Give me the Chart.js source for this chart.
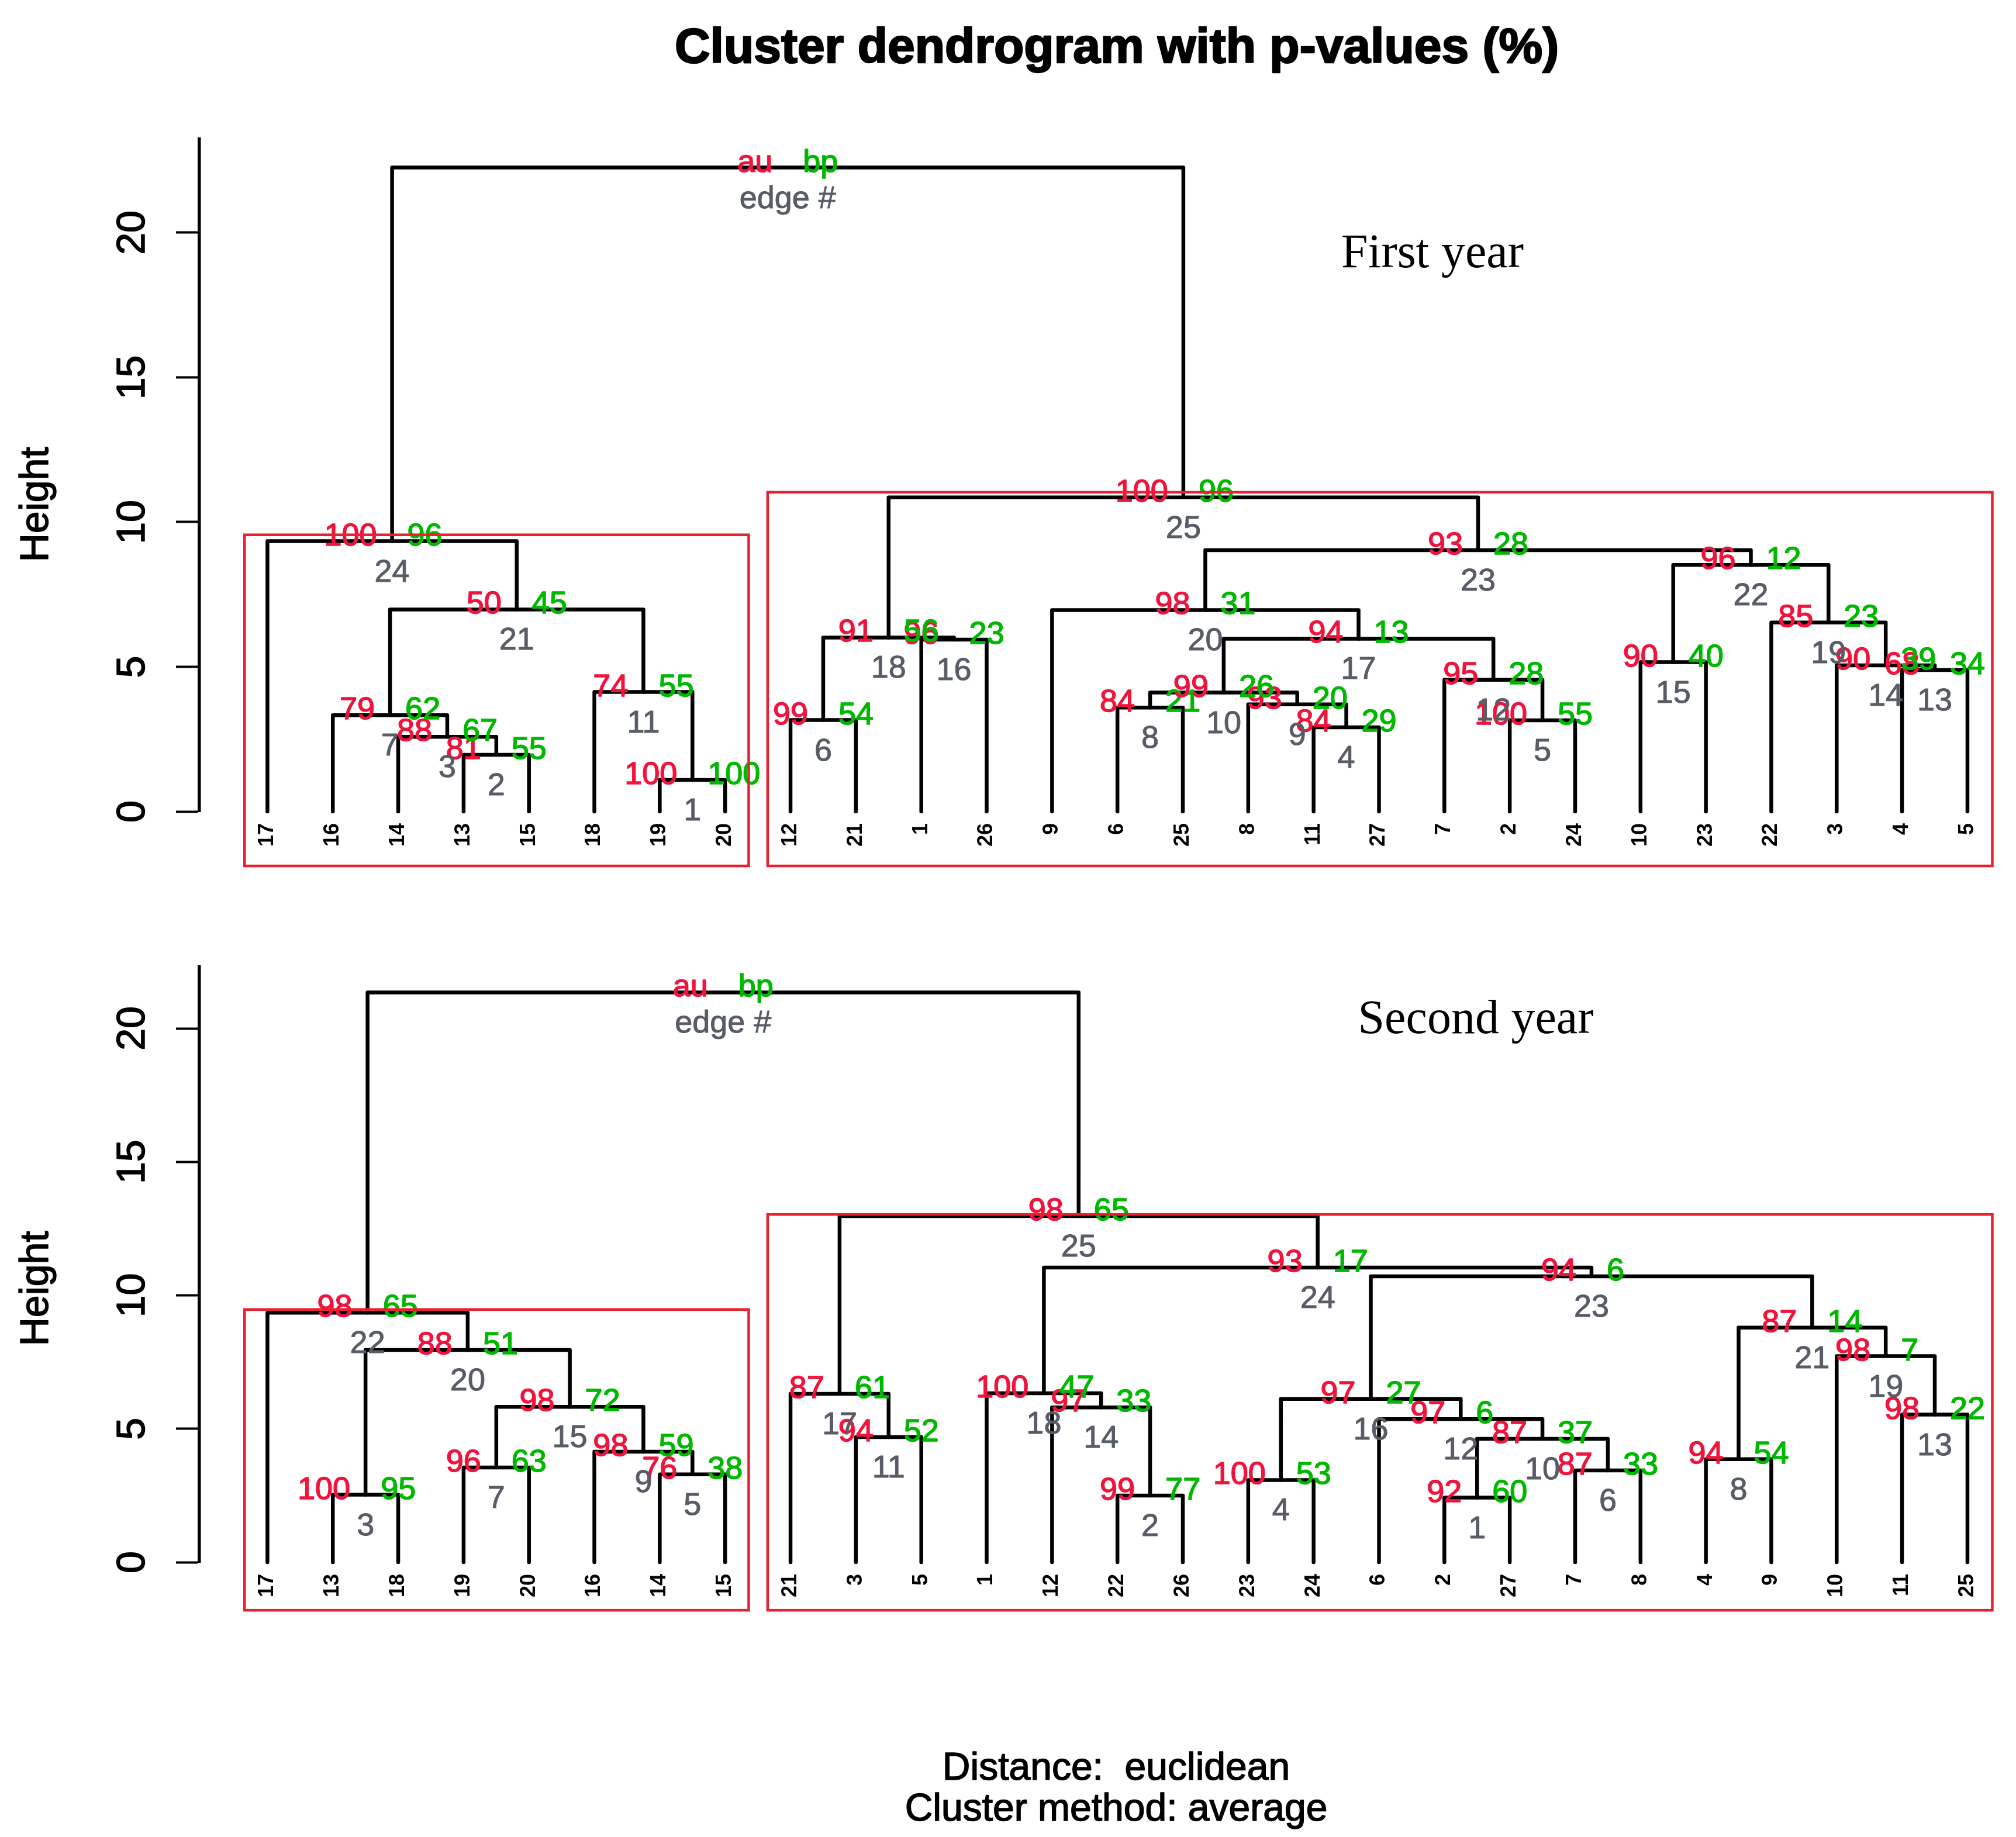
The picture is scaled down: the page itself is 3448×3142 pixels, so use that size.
<!DOCTYPE html>
<html>
<head>
<meta charset="utf-8">
<title>Cluster dendrogram with p-values</title>
<script src="https://cdn.jsdelivr.net/npm/chart.js"></script>
<style>
  body { margin: 0; background: #fff; }
  #wrap { position: relative; width: 3448px; height: 3142px; }
  canvas { position: absolute; left: 0; }
</style>
</head>
<body>
<div id="wrap">
  <canvas id="year1" width="3448" height="1560" style="top:0"></canvas>
  <canvas id="year2" width="3448" height="1582" style="top:1560px"></canvas>
</div>
<script>
// ---- first year ----
// leaf order along the x axis
const leaves1 = [17,16,14,13,15,18,19,20,12,21,1,26,9,6,25,8,11,27,7,2,24,10,23,22,3,4,5];
// one merge per edge (1..25) + root; negative = leaf id, positive = edge #
const left1   = [-19,-13,-14,-11,-2,-12,-16,-6,-8,8,-18,-7,-4,-3,-10,-1,10,6,-22,-9,7,15,20,-17,18,24];
const right1  = [-20,-15,2,-27,-24,-21,3,-25,4,9,1,5,-5,13,-23,-26,12,16,14,17,11,19,22,21,23,25];
const height1 = [1.09,1.96,2.58,2.91,3.15,3.16,3.33,3.59,3.70,4.11,4.13,4.55,4.89,5.05,5.16,5.94,5.97,6.01,6.53,6.96,6.98,8.52,9.03,9.34,10.85,22.25];
const au1 = [100,81,88,84,100,99,79,84,93,99,74,95,68,90,90,96,94,91,85,98,50,96,93,100,100];
const bp1 = [100,55,67,29,55,54,62,21,20,26,55,28,34,39,40,23,13,56,23,31,45,12,28,96,96];
// highlighted clusters: [from, to, top height]
const boxes1 = [[0.65, 8.36, 9.56], [8.65, 27.38, 11.03]];

// ---- second year ----
const leaves2 = [17,13,18,19,20,16,14,15,21,3,5,1,12,22,26,23,24,6,2,27,7,8,4,9,10,11,25];
const left2   = [-2,-22,-13,-23,-14,-7,-19,-4,-16,1,-3,-6,-11,-12,7,4,-21,-1,-10,3,8,-17,16,18,17,22];
const right2  = [-27,-26,-18,-24,-15,-8,-20,-9,5,6,-5,10,-25,2,9,12,11,14,13,15,19,20,21,23,24,25];
const height2 = [2.42,2.50,2.53,3.08,3.29,3.44,3.55,3.86,4.14,4.62,4.69,5.36,5.53,5.80,5.82,6.12,6.31,6.33,7.72,7.95,8.79,9.35,10.71,11.04,12.97,21.35];
const au2 = [92,99,100,100,76,87,96,94,98,87,94,97,98,97,98,97,87,100,98,88,87,98,94,93,98];
const bp2 = [60,77,95,53,38,33,63,54,59,37,52,6,22,33,72,27,61,47,7,51,14,65,6,17,65];
const boxes2 = [[0.65, 8.36, 9.47], [8.65, 27.38, 13.03]];

const SANS = '"Liberation Sans", Arial, sans-serif';
const SERIF = '"Liberation Serif", "Times New Roman", serif';
const RED = '#f0143c', GREEN = '#00b800', GRAY = '#575c66', BOXRED = '#e8202f';

Chart.defaults.font.family = SANS;

// node positions: leaves at 1..n, each merge at the middle of its two children
function buildTree(leaves, left, right, height) {
  const pos = {};
  leaves.forEach((id, i) => { pos[id] = i + 1; });
  const nx = [], ny = [], segs = [];
  const ref = v => v < 0 ? [pos[-v], 0] : [nx[v - 1], ny[v - 1]];
  for (let k = 0; k < left.length; k++) {
    const [xa, ya] = ref(left[k]);
    const [xb, yb] = ref(right[k]);
    nx.push((xa + xb) / 2);
    ny.push(height[k]);
    segs.push([{x: xa, y: ya}, {x: xa, y: height[k]}, {x: xb, y: height[k]}, {x: xb, y: yb}]);
  }
  return { nx, ny, segs };
}

// slightly heavier text, like the scanned original
function heavyText(ctx, text, x, y, color, w) {
  ctx.fillStyle = color;
  ctx.strokeStyle = color;
  ctx.lineWidth = w;
  ctx.lineJoin = 'round';
  ctx.strokeText(text, x, y);
  ctx.fillText(text, x, y);
}

function makeChart(id, cfg) {
  const tree = buildTree(cfg.leaves, cfg.left, cfg.right, cfg.height);
  const canvas = document.getElementById(id);
  const H = canvas.height;

  const plugin = {
    id: 'dendro_' + id,
    afterDatasetsDraw(chart) {
      const { ctx, scales: { x, y } } = chart;
      ctx.save();
      ctx.font = '54px ' + SANS;
      ctx.textBaseline = 'alphabetic';
      const last = tree.nx.length - 1;
      tree.nx.forEach((vx, k) => {
        const px = x.getPixelForValue(vx), py = y.getPixelForValue(tree.ny[k]);
        const a = k === last ? 'au' : String(cfg.au[k]);
        const b = k === last ? 'bp' : String(cfg.bp[k]);
        const e = k === last ? 'edge #' : String(k + 1);
        ctx.textAlign = 'right'; heavyText(ctx, a, px - 26, py + 7, RED, 1.5);
        ctx.textAlign = 'left'; heavyText(ctx, b, px + 26, py + 7, GREEN, 1.5);
        ctx.textAlign = 'center'; heavyText(ctx, e, px, py + 69, GRAY, 1);
      });
      ctx.restore();
    },
    afterDraw(chart) {
      const { ctx, scales: { x, y } } = chart;
      ctx.save();
      // cluster rectangles
      ctx.strokeStyle = BOXRED;
      ctx.lineWidth = 4.5;
      cfg.boxes.forEach(([x0, x1, top]) => {
        const l = x.getPixelForValue(x0), r = x.getPixelForValue(x1);
        const t = y.getPixelForValue(top), b = y.getPixelForValue(cfg.boxBottom);
        ctx.strokeRect(l, t, r - l, b - t);
      });
      // y tick labels, parallel to the axis
      ctx.font = '68px ' + SANS;
      ctx.textAlign = 'center';
      ctx.textBaseline = 'alphabetic';
      y.ticks.forEach(t => {
        ctx.save();
        ctx.translate(247, y.getPixelForValue(t.value));
        ctx.rotate(-Math.PI / 2);
        heavyText(ctx, String(t.value), 0, 0, '#000', 1.5);
        ctx.restore();
      });
      // axis title
      ctx.save();
      ctx.translate(82, cfg.heightLabelY);
      ctx.rotate(-Math.PI / 2);
      heavyText(ctx, 'Height', 0, 0, '#000', 1.5);
      ctx.restore();
      // panel label
      ctx.font = '82px ' + SERIF;
      ctx.fillStyle = '#000';
      ctx.fillText(cfg.panel, cfg.panelX, cfg.panelY);
      // extra page text
      (cfg.texts || []).forEach(t => {
        ctx.font = t.font;
        heavyText(ctx, t.text, t.x, t.y, '#000', t.w || 1);
      });
      ctx.restore();
    }
  };

  return new Chart(canvas, {
    type: 'line',
    data: {
      datasets: tree.segs.map(d => ({
        data: d,
        borderColor: '#000',
        borderWidth: 6.5,
        borderCapStyle: 'round',
        borderJoinStyle: 'round',
        pointRadius: 0,
        tension: 0,
        fill: false,
        clip: false
      }))
    },
    options: {
      responsive: false,
      animation: false,
      devicePixelRatio: 1,
      events: [],
      layout: { padding: { top: cfg.top, right: 8, left: 0, bottom: 0 } },
      plugins: { legend: { display: false }, tooltip: { enabled: false } },
      scales: {
        x: {
          type: 'linear',
          min: -0.041,
          max: 27.671,
          afterBuildTicks: s => { s.ticks = cfg.leaves.map((_, i) => ({ value: i + 1 })); },
          afterFit: s => { s.height = H - cfg.bottom; },
          grid: { display: false, drawTicks: false },
          border: { display: false },
          ticks: {
            autoSkip: false,
            minRotation: 90,
            maxRotation: 90,
            padding: 20,
            color: '#000',
            font: { size: 36, weight: 'bold' },
            callback: v => String(cfg.leaves[v - 1])
          }
        },
        y: {
          type: 'linear',
          min: 0,
          max: cfg.ymax,
          afterFit: s => { s.width = 341; },
          ticks: { stepSize: 5, includeBounds: false, display: false },
          grid: { drawOnChartArea: false, drawTicks: true, tickLength: 40, tickWidth: 4, tickColor: '#000' },
          border: { display: true, color: '#000', width: 5.5 }
        }
      }
    },
    plugins: [plugin]
  });
}

makeChart('year1', {
  leaves: leaves1, left: left1, right: right1, height: height1, au: au1, bp: bp1,
  boxes: boxes1, boxBottom: -1.88,
  top: 237.5, bottom: 1388, ymax: 23.24,
  heightLabelY: 863, panel: 'First year', panelX: 2450, panelY: 457,
  texts: [{ text: 'Cluster dendrogram with p-values (%)', font: 'bold 84px ' + SANS, x: 1910, y: 107, w: 2.5 }]
});

makeChart('year2', {
  leaves: leaves2, left: left2, right: right2, height: height2, au: au2, bp: bp2,
  boxes: boxes2, boxBottom: -1.8,
  top: 93.6, bottom: 1112, ymax: 22.31,
  heightLabelY: 644, panel: 'Second year', panelX: 2524, panelY: 207,
  texts: [
    { text: 'Distance:  euclidean', font: '66px ' + SANS, x: 1909, y: 1484, w: 1.5 },
    { text: 'Cluster method: average', font: '66px ' + SANS, x: 1909, y: 1554, w: 1.5 }
  ]
});
</script>
</body>
</html>
